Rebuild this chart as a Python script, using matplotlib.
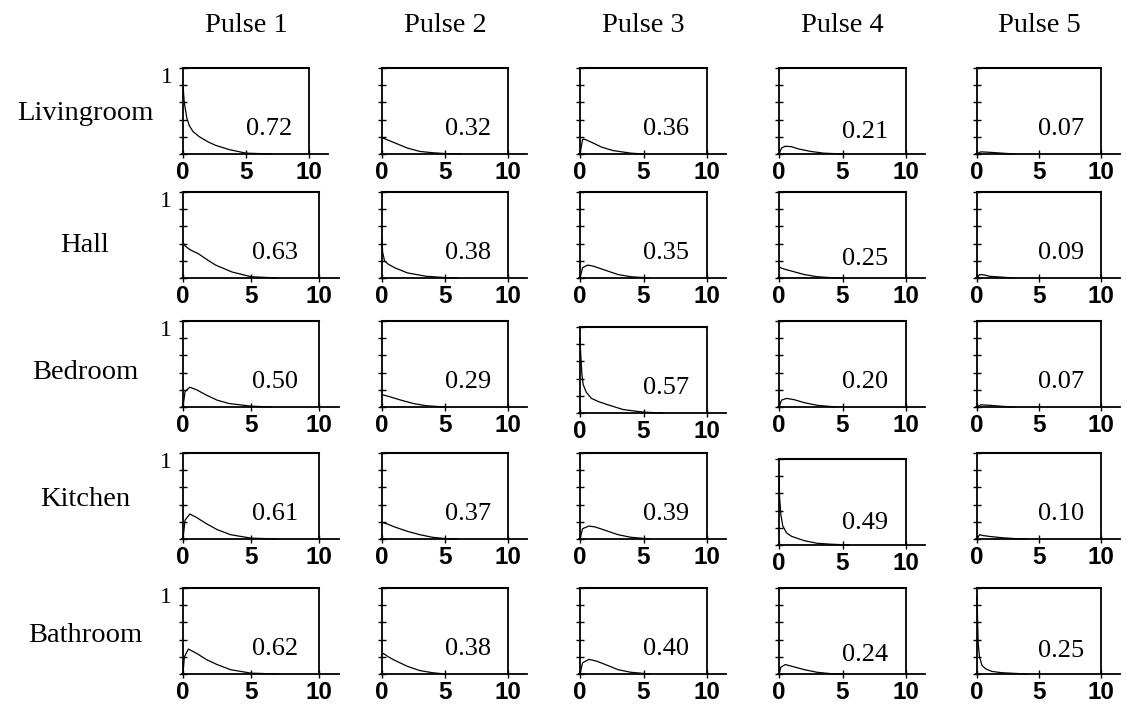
import matplotlib
matplotlib.use("Agg")
import matplotlib.pyplot as plt

W, H = 1127, 708

pulses = ["Pulse 1", "Pulse 2", "Pulse 3", "Pulse 4", "Pulse 5"]
rooms = ["Livingroom", "Hall", "Bedroom", "Kitchen", "Bathroom"]

values = [
    ["0.72", "0.32", "0.36", "0.21", "0.07"],
    ["0.63", "0.38", "0.35", "0.25", "0.09"],
    ["0.50", "0.29", "0.57", "0.20", "0.07"],
    ["0.61", "0.37", "0.39", "0.49", "0.10"],
    ["0.62", "0.38", "0.40", "0.24", "0.25"],
]

x_ticks = [0, 5, 10]
y_ticks = [0, 0.2, 0.4, 0.6, 0.8, 1.0]

# curves: (x list, y list)
curves = {
    (0, 0): ([0, 0.1, 0.3, 0.5, 0.8, 1.3, 2, 2.6, 3.7, 5, 7],
             [0.8, 0.6, 0.42, 0.33, 0.26, 0.2, 0.14, 0.1, 0.05, 0.01, 0]),
    (0, 1): ([0, 0.5, 1, 1.5, 2, 3, 4, 5, 6.3],
             [0.19, 0.16, 0.13, 0.1, 0.07, 0.03, 0.015, 0.005, 0]),
    (0, 2): ([0, 0.2, 0.4, 1, 1.7, 2.6, 4, 5],
             [0, 0.17, 0.17, 0.13, 0.08, 0.04, 0.01, 0]),
    (0, 3): ([0, 0.2, 0.5, 1, 1.5, 2.5, 3.5, 5],
             [0, 0.07, 0.09, 0.085, 0.06, 0.03, 0.01, 0]),
    (0, 4): ([0, 0.3, 1, 2, 3],
             [0, 0.025, 0.02, 0.01, 0]),
    (1, 0): ([0, 0.1, 0.5, 1.15, 1.8, 2.4, 3.6, 5, 7],
             [0.42, 0.38, 0.33, 0.28, 0.21, 0.15, 0.07, 0.015, 0]),
    (1, 1): ([0, 0.05, 0.2, 0.5, 1, 2, 3.5, 5, 6],
             [0.45, 0.3, 0.2, 0.16, 0.12, 0.06, 0.02, 0.005, 0]),
    (1, 2): ([0, 0.2, 0.6, 1, 2, 3, 4, 5.5],
             [0, 0.12, 0.15, 0.14, 0.09, 0.04, 0.015, 0]),
    (1, 3): ([0, 0.1, 0.5, 1, 2, 3, 4, 5],
             [0.14, 0.12, 0.1, 0.08, 0.04, 0.015, 0.005, 0]),
    (1, 4): ([0, 0.2, 0.6, 1, 2, 3],
             [0, 0.04, 0.035, 0.02, 0.01, 0]),
    (2, 0): ([0, 0.15, 0.5, 1, 1.7, 2.5, 3.4, 5, 6.5],
             [0, 0.18, 0.23, 0.2, 0.14, 0.08, 0.04, 0.01, 0]),
    (2, 1): ([0, 0.1, 0.6, 1.5, 2.5, 3.5, 5],
             [0.13, 0.14, 0.12, 0.08, 0.04, 0.015, 0]),
    (2, 2): ([0, 0.05, 0.15, 0.25, 0.5, 0.9, 1.5, 2.1, 3.4, 5, 6.5],
             [0.88, 0.7, 0.45, 0.33, 0.24, 0.17, 0.13, 0.1, 0.04, 0.01, 0]),
    (2, 3): ([0, 0.2, 0.6, 1.2, 2, 3, 4.5],
             [0, 0.08, 0.1, 0.085, 0.05, 0.02, 0]),
    (2, 4): ([0, 0.3, 1, 2, 3],
             [0, 0.025, 0.02, 0.008, 0]),
    (3, 0): ([0, 0.15, 0.5, 1, 1.7, 2.5, 3.5, 5, 7],
             [0, 0.22, 0.29, 0.25, 0.18, 0.11, 0.05, 0.01, 0]),
    (3, 1): ([0, 0.1, 0.5, 1, 2, 3, 4, 5, 6],
             [0.2, 0.19, 0.17, 0.14, 0.09, 0.05, 0.02, 0.005, 0]),
    (3, 2): ([0, 0.2, 0.7, 1.2, 2, 3, 4, 5.5],
             [0, 0.12, 0.15, 0.14, 0.1, 0.05, 0.02, 0]),
    (3, 3): ([0, 0.05, 0.15, 0.3, 0.6, 1, 2, 3, 4, 5.5],
             [0.8, 0.55, 0.35, 0.22, 0.14, 0.1, 0.05, 0.02, 0.01, 0]),
    (3, 4): ([0, 0.2, 0.5, 1, 2, 3, 4],
             [0, 0.05, 0.04, 0.03, 0.015, 0.005, 0]),
    (4, 0): ([0, 0.1, 0.4, 1, 1.7, 2.5, 3.5, 5, 7],
             [0, 0.2, 0.29, 0.24, 0.17, 0.11, 0.05, 0.01, 0]),
    (4, 1): ([0, 0.1, 0.5, 1, 2, 3, 4, 5],
             [0.22, 0.24, 0.2, 0.16, 0.09, 0.04, 0.015, 0]),
    (4, 2): ([0, 0.2, 0.7, 1.3, 2, 3, 4, 5.5],
             [0, 0.13, 0.17, 0.15, 0.11, 0.05, 0.02, 0]),
    (4, 3): ([0, 0.15, 0.5, 1, 2, 3, 4, 5],
             [0, 0.08, 0.11, 0.09, 0.05, 0.02, 0.005, 0]),
    (4, 4): ([0, 0.05, 0.1, 0.2, 0.4, 0.7, 1.2, 2, 4],
             [0.9, 0.6, 0.35, 0.2, 0.1, 0.06, 0.03, 0.015, 0]),
}

# layout (pixels)
col_left = [183, 382, 580, 779, 977]
col_unit = [12.6, 12.6, 12.7, 12.7, 12.4]   # px per x unit
row_top = [68, 192, 321, 453, 588]
box_h = 86
X0, X1 = -0.05, 11.5

# small per-panel irregularities of the scan
dy = {(2, 2): 6, (3, 3): 6}
unit_override = {(1, 0): 13.6, (2, 0): 13.6, (3, 0): 13.6, (4, 0): 13.6}
label_y = {(0, 3): 0.25, (1, 3): 0.22, (3, 3): 0.26, (4, 3): 0.22, (4, 4): 0.27}

serif = ["Liberation Serif", "DejaVu Serif"]
sans = ["Liberation Sans", "DejaVu Sans"]

fig = plt.figure(figsize=(W / 100, H / 100), dpi=100)

for r in range(5):
    for c in range(5):
        u = unit_override.get((r, c), col_unit[c])
        top = row_top[r] + dy.get((r, c), 0)
        left_px = col_left[c] + X0 * u
        w_px = (X1 - X0) * u
        ax = fig.add_axes([left_px / W, 1 - (top + box_h) / H, w_px / W, box_h / H])
        ax.set_xlim(X0, X1)
        ax.set_ylim(0, 1)
        for s in ["top", "right"]:
            ax.spines[s].set_visible(False)
        ax.spines["left"].set_position(("data", 0))
        ax.spines["left"].set_linewidth(1.3)
        ax.spines["bottom"].set_linewidth(1.3)
        # box frame: top line and right line up to x = 10
        ax.plot([0, 10], [1, 1], color="black", lw=1.5, clip_on=False)
        ax.plot([10, 10], [0, 1], color="black", lw=1.3, clip_on=False)
        xs, ys = curves[(r, c)]
        ax.plot(xs, ys, color="black", lw=0.9, clip_on=False)
        ax.set_xticks(x_ticks)
        ax.set_xticklabels([str(t) for t in x_ticks], fontfamily=sans,
                           fontweight="bold", fontsize=17.5)
        ax.set_yticks(y_ticks)
        ax.set_yticklabels([])
        ax.tick_params(axis="both", direction="inout", length=6, width=1.0)
        ax.tick_params(axis="x", pad=2)
        ax.text(6.8, label_y.get((r, c), 0.29), values[r][c], ha="center",
                va="center", fontfamily=serif, fontsize=19)
        if c == 0:
            ax.text(-0.8, 1.01, "1", ha="right", va="top", fontfamily=serif,
                    fontsize=17)

for c in range(5):
    cx = col_left[c] + 5 * col_unit[c]
    fig.text(cx / W, 1 - 25 / H, pulses[c], ha="center", va="center",
             fontfamily=serif, fontsize=20.5)

row_label_off = [2, 10, 8, 3, 4]
for r in range(5):
    cy = row_top[r] + box_h / 2 + row_label_off[r]
    fig.text(85 / W, 1 - cy / H, rooms[r], ha="center", va="center",
             fontfamily=serif, fontsize=20.5)

fig.savefig("out.png", dpi=100, facecolor="white")
